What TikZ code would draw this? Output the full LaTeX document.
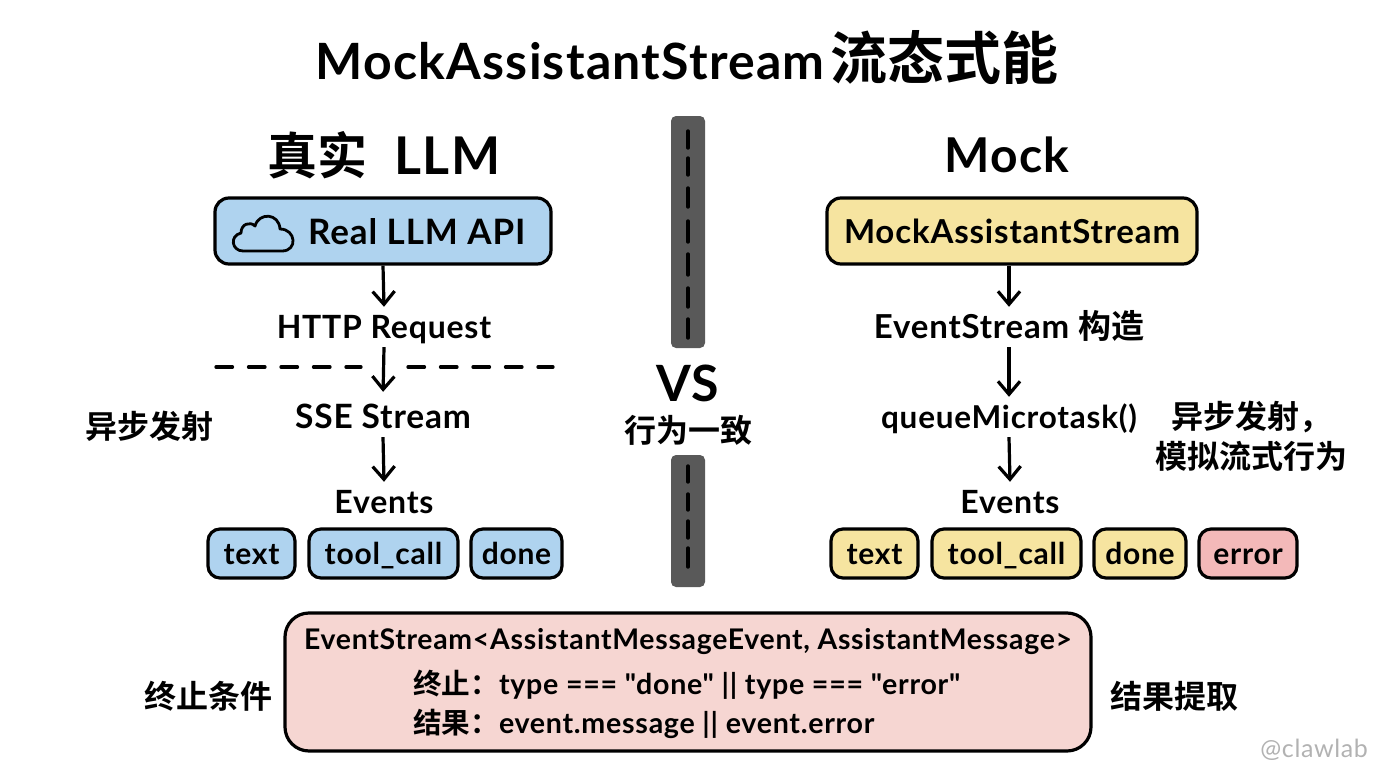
\documentclass[tikz,border=0pt]{standalone}
\usepackage{fontspec}
\setmainfont{Lato}[UprightFont=*,BoldFont=* Bold,Ligatures=TeXOff,LetterSpace=2.5]
\newfontfamily\cjk{Noto Sans CJK SC}[BoldFont=* Bold]
\usetikzlibrary{arrows.meta}
\newcommand{\fs}[1]{\fontsize{#1}{#1}\selectfont}
\newcommand{\cj}[1]{{\cjk #1}}
\definecolor{bluefill}{HTML}{AFD3EF}
\definecolor{yellowfill}{HTML}{F6E4A0}
\definecolor{redfill}{HTML}{F3B9B9}
\definecolor{pinkfill}{HTML}{F6D6D2}
\definecolor{bargrey}{HTML}{595959}
\tikzset{
  box/.style={draw=black,line width=3.2pt,rounded corners=14pt,inner sep=0pt,minimum height=66pt},
  chip/.style={draw=black,line width=3.2pt,rounded corners=12pt,inner sep=0pt,minimum height=49pt,font=\bfseries\fs{30},text height=21pt,text depth=0pt},
  lbl/.style={inner sep=0pt,minimum height=40pt,font=\bfseries\fs{32},text height=23pt,text depth=0pt},
  side/.style={inner sep=0pt,font=\cjk\bfseries\fs{32}},
  head/.style={inner sep=0pt,font=\bfseries\fs{52}},
  flow/.style={line width=3.2pt,-{Straight Barb[length=13pt,width=22pt,line width=3.2pt]}},
  rule/.style={line width=3.3pt,line cap=round,dash pattern=on 16.5pt off 16pt},
  barbox/.style={fill=bargrey,rounded corners=5pt,minimum width=34pt,inner sep=0pt},
  tick/.style={line width=3.4pt,line cap=round,black}
}
\begin{document}
\begin{tikzpicture}[x=1pt,y=-1pt]
\useasboundingbox (0,0) rectangle (1376,768);
\node[inner sep=0pt,font=\bfseries\fs{50}] (title) at (687,58) {MockAssistantStream\hspace{6pt}\cj{\fs{57}流态式能}};
% left column
\node[head] (lefthead) at (384,155) {\cj{\fs{50}真实}\hspace{27pt}LLM};
\node[box,fill=bluefill,minimum width=336pt] (api) at (383,231) {};
\node[inner sep=0pt,font=\bfseries\fs{35},anchor=west,text height=25pt,text depth=0pt] (apitext) at (308,232) {Real LLM API};
\draw[line width=2.8pt,line join=round] (243,251)
  .. controls (232,251) and (229,236) .. (241,233)
  .. controls (241,224) and (250,221) .. (255,226)
  .. controls (259,212) and (279,213) .. (280,229)
  .. controls (296,229) and (298,251) .. (282,251) -- cycle;
\node[lbl] (http) at (384,327) {HTTP Request};
\node[lbl,font=\bfseries\fs{33.5}] (sse) at (383,417) {SSE Stream};
\node[lbl] (ev1) at (384,502) {Events};
\draw[flow] (api.south) -- (http.north);
\draw[flow,shorten >=5pt] (http.south) -- (sse.north);
\draw[flow] (sse.south) -- (ev1.north);
\coordinate (ruleA) at (216,367);
\coordinate (ruleB) at (361,367);
\coordinate (ruleC) at (553,367);
\coordinate (ruleD) at (408,367);
\draw[rule] (ruleA) -- (ruleB);
\draw[rule] (ruleD) -- (ruleC);
\node[side] (async1) at (149,426) {异步发射};
\node[chip,fill=bluefill,minimum width=87pt] (c1) at (251.5,553.5) {text};
\node[chip,fill=bluefill,minimum width=149pt] (c2) at (383.5,553.5) {tool\_call};
\node[chip,fill=bluefill,minimum width=91pt] (c3) at (516.5,553.5) {done};
% divider
\node[barbox,minimum height=232pt] (bar1) at (688,232) {};
\node[barbox,minimum height=132pt] (bar2) at (688,521) {};
\foreach \a/\b in {131/148,158/175,188/207,221/242,254/275,288/307,319/338,466/482,494/510,521/538,548/567}
  \draw[tick] (688,\a) -- (688,\b);
\node[inner sep=0pt,font=\bfseries\fs{50}] (vs) at (688,383) {VS};
\node[side] (same) at (688,430) {行为一致};
% right column
\node[head,font=\bfseries\fs{48}] (righthead) at (1007,155) {Mock};
\node[box,fill=yellowfill,minimum width=370pt,font=\bfseries\fs{33},text height=24pt,text depth=0pt] (mock) at (1012,231) {MockAssistantStream};
\node[lbl,font=\bfseries\fs{33}] (es) at (1009,327) {EventStream \cj{构造}};
\node[lbl,font=\bfseries\fs{31.5}] (qm) at (1009,417) {queueMicrotask()};
\node[lbl] (ev2) at (1010,502) {Events};
\draw[flow] (es.north |- mock.south) -- (es.north);
\draw[flow] (es.south) -- (qm.north);
\draw[flow] (qm.south) -- (ev2.north);
\node[side,anchor=west] (async2) at (1171,417) {异步发射，};
\node[side] (sim) at (1251,456) {模拟流式行为};
\node[chip,fill=yellowfill,minimum width=87pt] (d1) at (874.5,553.5) {text};
\node[chip,fill=yellowfill,minimum width=149pt] (d2) at (1006.5,553.5) {tool\_call};
\node[chip,fill=yellowfill,minimum width=92pt] (d3) at (1140,553.5) {done};
\node[chip,fill=redfill,minimum width=98pt] (d4) at (1248,553.5) {error};
% bottom
\node[draw=black,line width=3.2pt,rounded corners=24pt,fill=pinkfill,minimum width=806pt,minimum height=138pt,inner sep=0pt] (bottom) at (688,682) {};
\node[inner sep=0pt,font=\bfseries\fs{28.4}] (sig) at (688,642) {EventStream<AssistantMessageEvent, AssistantMessage>};
\node[inner sep=0pt,anchor=west,font=\bfseries\fs{28.6}] (stop) at (413,685) {\cj{终止：}type === "done" || type === "error"};
\node[inner sep=0pt,anchor=west,font=\bfseries\fs{28.6}] (res) at (413,724) {\cj{结果：}event.message || event.error};
\node[side] (cond) at (208,696) {终止条件};
\node[side] (extract) at (1174,696) {结果提取};
\node[inner sep=0pt,anchor=east,font=\fs{25},text=black!30] (mark) at (1368,750) {@clawlab};
\end{tikzpicture}
\end{document}
